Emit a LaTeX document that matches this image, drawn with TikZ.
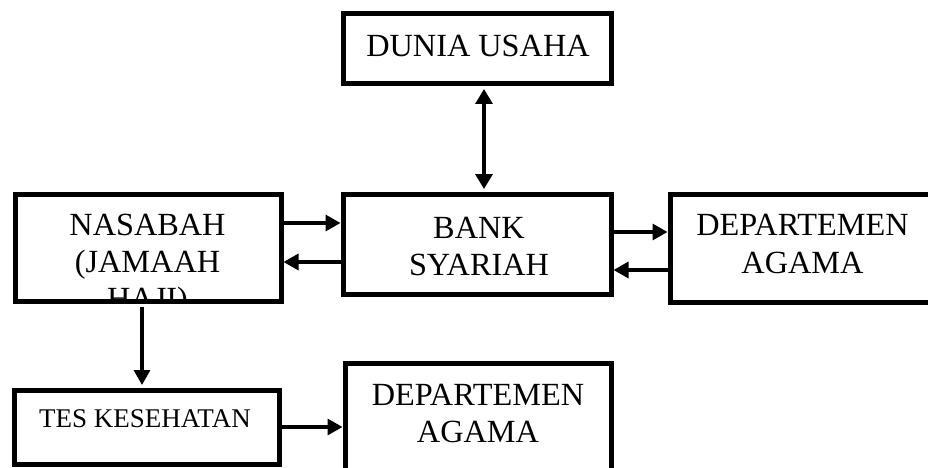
\documentclass[tikz,border=0pt]{standalone}
\usepackage{fontspec}
\setmainfont{Liberation Serif}
\usetikzlibrary{arrows.meta}
\tikzset{
  box/.style={draw, line width=5pt, rectangle, inner sep=0pt},
  lbl/.style={anchor=base, inner sep=0pt, font=\fontsize{32.3}{37}\selectfont},
  lblsmall/.style={anchor=base, inner sep=0pt, font=\fontsize{27}{31}\selectfont},
  arr/.style={line width=3.3pt, -{Triangle[length=15pt,width=16pt]}},
  darr/.style={line width=3.3pt, {Triangle[length=15pt,width=17pt]}-{Triangle[length=15pt,width=17pt]}}
}
\begin{document}
\begin{tikzpicture}[x=1pt,y=-1pt]
\clip (0,0) rectangle (928,468);
\fill[white] (0,0) rectangle (928,468);
% boxes
\node[box, minimum width=268pt, minimum height=70pt] (dunia) at (477,49) {};
\node[box, minimum width=268pt, minimum height=100pt] (bank) at (477,244) {};
\node[box, minimum width=266pt, minimum height=107pt] (nasabah) at (148,247.5) {};
\node[box, minimum width=265pt, minimum height=108pt] (dept1) at (802.5,248) {};
\node[box, minimum width=265pt, minimum height=74pt] (tes) at (146.5,427) {};
\node[box, minimum width=266pt, minimum height=107pt] (dept2) at (478,416.5) {};
% texts
\node[lbl] (tdunia) at (478,57) {DUNIA USAHA};
\node[lbl] (tbank1) at (479,238) {BANK};
\node[lbl] (tbank2) at (479,275) {SYARIAH};
\node[lbl] (tnas1) at (147.5,235) {NASABAH};
\node[lbl] (tnas2) at (147.5,272) {(JAMAAH};
\begin{scope}
\clip (18.5,199.5) rectangle (278.5,298.5);
\node[lbl] (tnas3) at (147.5,309) {HAJI)};
\end{scope}
\node[lbl] (tdep1a) at (802.5,235) {DEPARTEMEN};
\node[lbl] (tdep1b) at (802.5,273) {AGAMA};
\node[lblsmall] (ttes) at (145,427) {TES KESEHATAN};
\node[lbl] (tdep2a) at (478,405) {DEPARTEMEN};
\node[lbl] (tdep2b) at (478,442) {AGAMA};
% connectors
\coordinate (dtop) at (484,89);
\coordinate (dbot) at (484,189);
\draw[darr] (dtop) -- (dbot);
\draw[arr] (nasabah.east |- 0,223) -- (bank.west |- 0,223);
\draw[arr] (bank.west |- 0,262) -- (nasabah.east |- 0,262);
\draw[arr] (bank.east |- 0,232) -- (dept1.west |- 0,232);
\draw[arr] (dept1.west |- 0,270) -- (bank.east |- 0,270);
\coordinate (nbot) at (142,307);
\coordinate (ttop) at (142,385);
\draw[arr] (nbot) -- (ttop);
\draw[arr] (tes.east |- 0,427) -- (dept2.west |- 0,427);
\end{tikzpicture}
\end{document}
